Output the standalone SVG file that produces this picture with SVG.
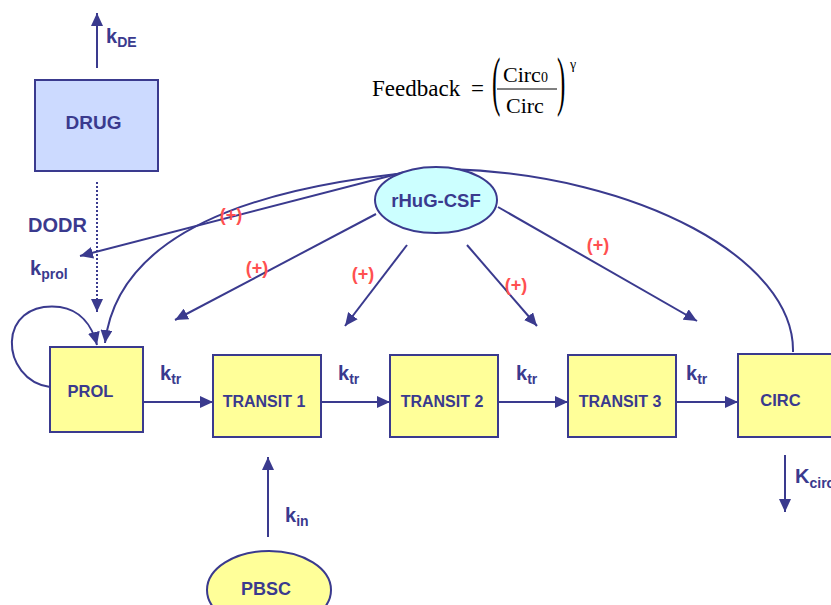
<svg xmlns="http://www.w3.org/2000/svg" width="831" height="605" viewBox="0 0 831 605">
<style>
.box{fill:#FFFF99;stroke:#3A3A8E;stroke-width:2}
.lbl{font-family:"Liberation Sans",Arial,sans-serif;font-weight:bold;fill:#3A3A8E;text-anchor:middle}
.k{font-family:"Liberation Sans",Arial,sans-serif;font-weight:bold;fill:#3A3A8E;font-size:20px}
.sub{font-size:14px}
.plus{font-family:"Liberation Sans",Arial,sans-serif;font-weight:bold;fill:#FF5050;font-size:18px;text-anchor:middle}
.ln{fill:none;stroke:#3A3A8E;stroke-width:2}
.eq{font-family:"Liberation Serif","Times New Roman",serif;fill:#000}
</style>
<defs>
<marker id="ah" markerUnits="userSpaceOnUse" markerWidth="14" markerHeight="12" refX="13" refY="6" orient="auto">
<path d="M0,0 L13,6 L0,12 z" fill="#3A3A8E"/>
</marker>
</defs>
<rect width="831" height="605" fill="#fff"/>

<g id="connectors">
<line class="ln" x1="97" y1="68" x2="97" y2="13" marker-end="url(#ah)"/>
<line class="ln" x1="97" y1="182" x2="97" y2="312" stroke-dasharray="2,2" stroke-width="1.5" marker-end="url(#ah)"/>
<line class="ln" x1="405" y1="172" x2="80" y2="256" marker-end="url(#ah)"/>
<path class="ln" d="M793,352 C795,260 640,175 450,169 C300,180 120,215 105,343" marker-end="url(#ah)"/>
<path class="ln" d="M50,387 C0,380 -5,300 60,307 C80,310 92,325 97,345" marker-end="url(#ah)"/>
<line class="ln" x1="376" y1="214" x2="175" y2="320" marker-end="url(#ah)"/>
<line class="ln" x1="407" y1="245" x2="345" y2="326" marker-end="url(#ah)"/>
<line class="ln" x1="467" y1="245" x2="537" y2="326" marker-end="url(#ah)"/>
<line class="ln" x1="498" y1="207" x2="697" y2="321" marker-end="url(#ah)"/>
<line class="ln" x1="143" y1="402" x2="213" y2="402" marker-end="url(#ah)"/>
<line class="ln" x1="321" y1="402" x2="390" y2="402" marker-end="url(#ah)"/>
<line class="ln" x1="498" y1="402" x2="568" y2="402" marker-end="url(#ah)"/>
<line class="ln" x1="676" y1="402" x2="738" y2="402" marker-end="url(#ah)"/>
<line class="ln" x1="268" y1="537" x2="268" y2="457" marker-end="url(#ah)"/>
<line class="ln" x1="785" y1="455" x2="785" y2="512" marker-end="url(#ah)"/>
</g>

<g id="drug">
<rect x="35" y="80" width="123" height="91" fill="#CCDAFF" stroke="#3A3A8E" stroke-width="2"/>
<text class="lbl" x="93.5" y="129" font-size="19">DRUG</text>
</g>
<g id="rhug">
<ellipse cx="436" cy="200" rx="61" ry="33" fill="#CCFFFF" stroke="#3A3A8E" stroke-width="2"/>
<text class="lbl" x="436" y="207" font-size="18.5">rHuG-CSF</text>
</g>
<g id="prol">
<rect class="box" x="50" y="347" width="93" height="85"/>
<text class="lbl" x="90.5" y="397" font-size="16.5">PROL</text>
</g>
<g id="transit1">
<rect class="box" x="213" y="355" width="108" height="82"/>
<text class="lbl" x="264" y="407" font-size="16">TRANSIT 1</text>
</g>
<g id="transit2">
<rect class="box" x="390" y="355" width="108" height="82"/>
<text class="lbl" x="442" y="407" font-size="16">TRANSIT 2</text>
</g>
<g id="transit3">
<rect class="box" x="568" y="355" width="108" height="82"/>
<text class="lbl" x="620" y="407" font-size="16">TRANSIT 3</text>
</g>
<g id="circ">
<rect class="box" x="738" y="354" width="108" height="83"/>
<text class="lbl" x="780.5" y="406" font-size="16.5">CIRC</text>
</g>
<g id="pbsc">
<ellipse cx="269" cy="590" rx="62" ry="39" fill="#FFFF99" stroke="#3A3A8E" stroke-width="2"/>
<text class="lbl" x="266" y="595" font-size="18">PBSC</text>
</g>

<g id="labels">
<text class="k" x="106" y="43">k<tspan class="sub" dy="4">DE</tspan></text>
<text class="k" x="28" y="232" font-size="21">DODR</text>
<text class="k" x="30" y="275">k<tspan class="sub" dy="4">prol</tspan></text>
<text class="k" x="160" y="380">k<tspan class="sub" dy="4">tr</tspan></text>
<text class="k" x="338" y="380">k<tspan class="sub" dy="4">tr</tspan></text>
<text class="k" x="516" y="380">k<tspan class="sub" dy="4">tr</tspan></text>
<text class="k" x="686" y="380">k<tspan class="sub" dy="4">tr</tspan></text>
<text class="k" x="285" y="522">k<tspan class="sub" dy="4">in</tspan></text>
<text class="k" x="795" y="483" font-size="21">K<tspan class="sub" dy="5">circ</tspan></text>
<text class="plus" x="231" y="221">(+)</text>
<text class="plus" x="257" y="274">(+)</text>
<text class="plus" x="363" y="280">(+)</text>
<text class="plus" x="516" y="291">(+)</text>
<text class="plus" x="598" y="251">(+)</text>
</g>

<g id="feedback">
<text class="eq" x="372" y="96" font-size="23">Feedback</text>
<text class="eq" x="471" y="96" font-size="23">=</text>
<text class="eq" transform="translate(492,103) scale(0.38,1)" font-size="66">(</text>
<text class="eq" transform="translate(557,103) scale(0.38,1)" font-size="66">)</text>
<text class="eq" x="503" y="82" font-size="22">Circ<tspan font-size="14">0</tspan></text>
<line x1="497" y1="89" x2="557" y2="89" stroke="#000" stroke-width="1"/>
<text class="eq" x="506" y="113" font-size="22">Circ</text>
<text class="eq" x="570" y="69" font-size="14">γ</text>
</g>
</svg>
